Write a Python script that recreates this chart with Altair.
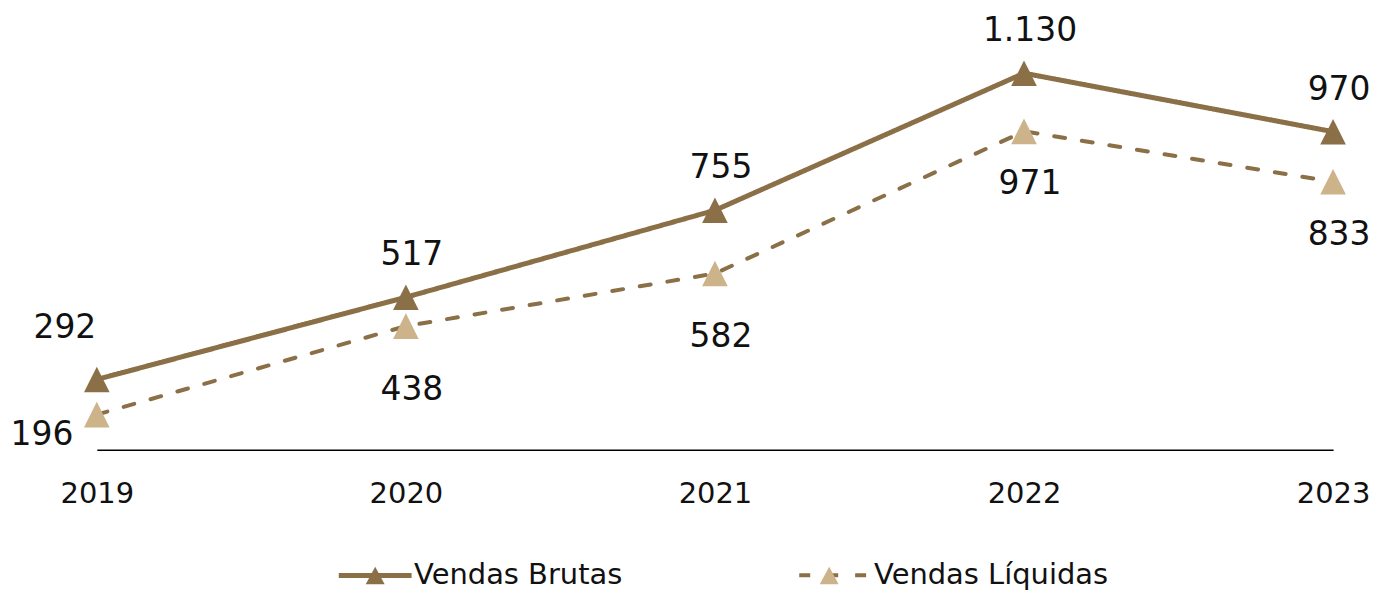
import altair as alt
import pandas as pd

years = ["2019", "2020", "2021", "2022", "2023"]
series_names = ["Vendas Brutas", "Vendas Líquidas"]
brutas = [292, 517, 755, 1130, 970]
liquidas = [196, 438, 582, 971, 833]
brutas_labels = ["292", "517", "755", "1.130", "970"]
liquidas_labels = ["196", "438", "582", "971", "833"]

rows = []
for i, y in enumerate(years):
    rows.append({"year": y, "series": series_names[0], "value": brutas[i], "label": brutas_labels[i]})
    rows.append({"year": y, "series": series_names[1], "value": liquidas[i], "label": liquidas_labels[i]})
df = pd.DataFrame(rows)

DARK = "#8B6F47"
TAN = "#CDB38A"
FONT = "DejaVu Sans"
TXT = "#111111"

x_enc = alt.X("year:O", scale=alt.Scale(padding=0),
              axis=alt.Axis(title=None, labelAngle=0, ticks=False, domainColor="#000000",
                            domainWidth=1.5, labelFont=FONT, labelFontSize=29, labelColor=TXT,
                            labelPadding=30, labelFlush=False, grid=False))
y_enc = alt.Y("value:Q", scale=alt.Scale(domain=[100, 1274], nice=False, zero=False), axis=None)

LEG_X = 240
LEG_Y = 517
common_leg = dict(orient="none", legendX=LEG_X, legendY=LEG_Y, direction="horizontal", title=None,
                  symbolSize=5329, symbolStrokeWidth=4.5, labelFont=FONT, labelFontSize=29,
                  labelOffset=0, labelLimit=0)

base = alt.Chart(df)

line = base.mark_line(color=DARK, strokeCap="round").encode(
    x=x_enc, y=y_enc,
    strokeDash=alt.StrokeDash("series:N",
                              scale=alt.Scale(domain=series_names, range=[[1, 0], [11, 17]]),
                              legend=alt.Legend(symbolType="M-1,0H1", symbolStrokeColor=DARK,
                                                labelColor=TXT, columnPadding=169, **common_leg)),
    strokeWidth=alt.StrokeWidth("series:N", scale=alt.Scale(domain=series_names, range=[5, 4]), legend=None),
)

pts = base.transform_calculate(serie="datum.series").mark_point(
    shape="M0,-1L1,1L-1,1Z", filled=True, size=660, opacity=1).encode(
    x=x_enc, y=y_enc,
    fill=alt.Fill("serie:N", scale=alt.Scale(range=[DARK, TAN]),
                  legend=alt.Legend(symbolType="M-0.26,0.24L0,-0.24L0.26,0.24Z", symbolStrokeColor="transparent",
                                    symbolOpacity=1, labelExpr="''", columnPadding=377, **common_leg)),
)

def lbl(filter_expr, dx, dy):
    return base.transform_filter(filter_expr).mark_text(
        font=FONT, fontSize=33, color=TXT, dx=dx, dy=dy, baseline="middle", align="center"
    ).encode(x=x_enc, y=y_enc, text="label:N")

t1 = lbl("datum.series == 'Vendas Brutas' && datum.year != '2019'", 6, -42)
t2 = lbl("datum.series == 'Vendas Líquidas' && (datum.year == '2020' || datum.year == '2021')", 6, 64)
t3 = lbl("datum.series == 'Vendas Líquidas' && (datum.year == '2022' || datum.year == '2023')", 6, 53)
t4 = lbl("datum.series == 'Vendas Brutas' && datum.year == '2019'", -32, -52)
t5 = lbl("datum.series == 'Vendas Líquidas' && datum.year == '2019'", -55, 20)

chart = alt.layer(line, pts, t1, t2, t3, t4, t5).properties(
    width=1239, height=430, background="white",
    autosize=alt.AutoSizeParams(type="none"),
    padding={"left": 89, "top": 12, "right": 40, "bottom": 141},
).configure_view(stroke=None)

chart.save("out.html", embed_options={"renderer": "svg", "actions": False})
